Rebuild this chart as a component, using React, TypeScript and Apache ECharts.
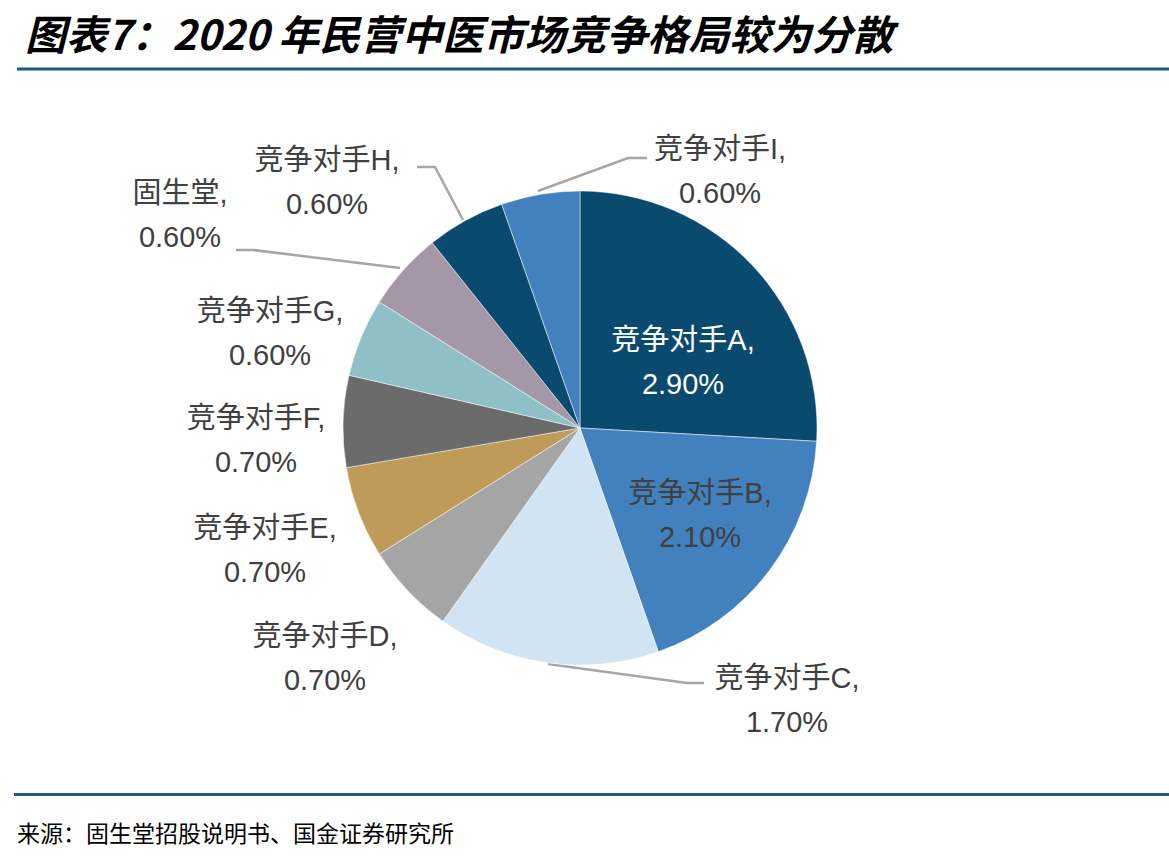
import React, { useEffect, useRef } from "react";
import * as echarts from "echarts";

const categories = ["竞争对手A", "竞争对手B", "竞争对手C", "竞争对手D", "竞争对手E", "竞争对手F", "竞争对手G", "固生堂", "竞争对手H", "竞争对手I"];
const shares = [2.9, 2.1, 1.7, 0.7, 0.7, 0.7, 0.6, 0.6, 0.6, 0.6];
const sliceColors = ["#0b4a6f", "#4280be", "#d1e4f4", "#a5a5a5", "#bf9b5a", "#6b6b6b", "#8fc0c8", "#a497a7", "#0b4a6f", "#4380be"];
const labelColors = ["#ffffff", "#404040", "#404040", "#404040", "#404040", "#404040", "#404040", "#404040", "#404040", "#404040"];
const labelCenters: number[][] = [[683, 362], [700, 515], [787, 700], [325, 658], [265, 550], [256, 440], [270, 333], [180, 215], [327, 182], [720, 171]];
const leaderLines: Record<number, number[][]> = {
  2: [[548, 664], [687, 683], [704, 683]],
  7: [[400, 268], [253, 250], [236, 250]],
  8: [[463, 220], [435, 167], [417, 167]],
  9: [[538, 191], [628, 158], [647, 158]],
};
const titleText = "图表7：2020 年民营中医市场竞争格局较为分散";
const sourceText = "来源：固生堂招股说明书、国金证券研究所";

export default function App() {
  const ref = useRef<HTMLDivElement>(null);
  useEffect(() => {
    document.body.style.margin = "0";
    if (!ref.current) return;
    const chart = echarts.init(ref.current, null, { renderer: "svg" });
    const data = categories.map((name, i) => ({
      name,
      value: shares[i],
      itemStyle: { color: sliceColors[i] },
      label: { color: labelColors[i] },
      labelLine: { show: leaderLines[i] != null },
    }));
    chart.setOption({
      animation: false,
      backgroundColor: "#ffffff",
      graphic: [
        {
          type: "text",
          left: 25,
          top: 10,
          style: {
            text: titleText,
            fontSize: 41,
            lineHeight: 44,
            fontWeight: "bold",
            fontStyle: "italic",
            fontFamily: "'Noto Sans CJK SC', sans-serif",
            fill: "#000000",
          },
        },
        { type: "rect", shape: { x: 17, y: 67.5, width: 1152, height: 3 }, style: { fill: "#1d5a80" } },
        { type: "rect", shape: { x: 14, y: 793, width: 1155, height: 3 }, style: { fill: "#1d5a80" } },
        {
          type: "text",
          left: 17,
          top: 820,
          style: {
            text: sourceText,
            fontSize: 23,
            fontFamily: "'Noto Sans CJK SC', serif",
            fill: "#000000",
          },
        },
      ],
      series: [
        {
          type: "pie",
          center: [580, 428],
          radius: 237,
          startAngle: 90,
          clockwise: true,
          itemStyle: { borderColor: "#ffffff", borderWidth: 0.5 },
          label: {
            show: true,
            position: "outside",
            width: 240,
            overflow: "none",
            align: "center",
            fontSize: 29,
            lineHeight: 44,
            fontFamily: "'Liberation Sans', 'Noto Sans CJK SC', sans-serif",
            formatter: (p: any) => `${p.name},\n${Number(p.value).toFixed(2)}%`,
          },
          labelLine: { lineStyle: { color: "#a6a6a6", width: 2.5 } },
          labelLayout: (p: any) => {
            const c = labelCenters[p.dataIndex];
            const out: any = { x: c[0], y: c[1], align: "center", verticalAlign: "middle" };
            if (leaderLines[p.dataIndex]) out.labelLinePoints = leaderLines[p.dataIndex];
            return out;
          },
          data,
        },
      ],
    });
    return () => chart.dispose();
  }, []);
  return <div ref={ref} style={{ width: 1169, height: 866 }} />;
}
